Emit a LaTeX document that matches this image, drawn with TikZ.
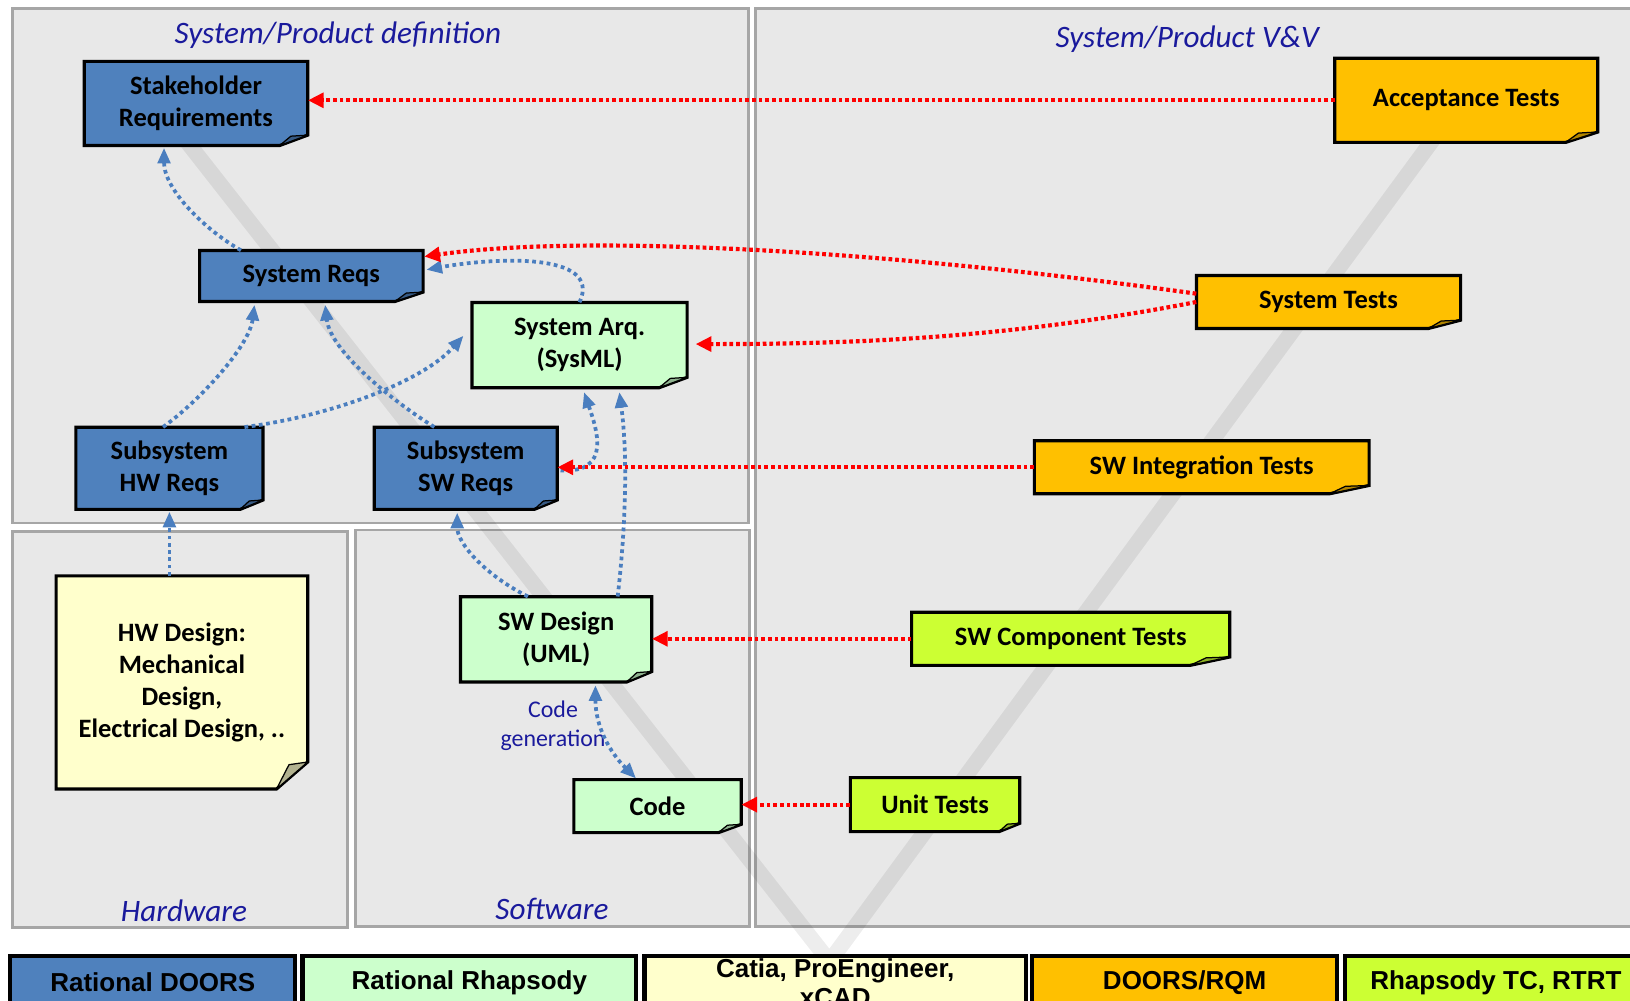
\documentclass[tikz,border=0pt]{standalone}
\usepackage{fontspec}
\setmainfont{Carlito}
\newfontfamily\legendfont{Liberation Sans}
\usetikzlibrary{arrows.meta,calc}

\definecolor{panelfill}{HTML}{E8E8E8}
\definecolor{panelline}{HTML}{A6A6A6}
\definecolor{doorsblue}{HTML}{4F81BD}
\definecolor{rhapgreen}{HTML}{CCFFCC}
\definecolor{cadyellow}{HTML}{FFFFCC}
\definecolor{testorange}{HTML}{FFC000}
\definecolor{testlime}{HTML}{CCFF33}
\definecolor{titleblue}{HTML}{1A1A9C}
\definecolor{linkblue}{HTML}{4A7EBF}

\tikzset{
  panel/.style={fill=panelfill, draw=panelline, line width=2.5pt},
  paneltitle/.style={font=\fontsize{30}{36}\selectfont\itshape, text=titleblue, inner sep=0pt},
  notetext/.style={font=\fontsize{25.5}{31}\selectfont\bfseries, align=center, inner sep=0pt},
  trace/.style={draw=linkblue, line width=3.6pt, dash pattern=on 3.6pt off 3.4pt,
    -{Triangle[length=15pt,width=12pt]}},
  verify/.style={draw=red, line width=4pt, dash pattern=on 3.6pt off 2.8pt,
    -{Triangle[length=15pt,width=14pt]}},
  legendbox/.style={draw=black, line width=4pt, anchor=north west, minimum height=50pt,
    inner sep=0pt, font=\legendfont\fontsize{25}{28}\selectfont\bfseries, align=center},
  vband/.style={draw=black, opacity=0.07, line width=15pt, line join=round}
}

% sticky note with a folded bottom-right corner
% #1 name, #2 centre x, #3 centre y, #4 width, #5 height, #6 fill,
% #7 fold width, #8 fold height, #9 text
\newcommand\stickynote[9]{%
  \begin{scope}[shift={(#2,#3)}]
    \filldraw[fill=#6, draw=black, line width=3pt, line join=miter]
      (-#4/2,-#5/2) -- (#4/2,-#5/2) -- (#4/2,#5/2-#8) -- (#4/2-#7,#5/2)
      -- (-#4/2,#5/2) -- cycle;
    \filldraw[fill=#6!70!black, draw=black, line width=1.2pt, line join=round]
      (#4/2,#5/2-#8) -- (#4/2-0.6*#7,#5/2-0.9*#8) -- (#4/2-#7,#5/2) -- cycle;
    \node[notetext, minimum width=#4pt, minimum height=#5pt] (#1) at (0,0) {#9};
  \end{scope}}

\begin{document}
\begin{tikzpicture}[x=1pt,y=-1pt]
  \clip (0,0) rectangle (1568,962);
  \fill[white] (0,0) rectangle (1568,962);

  % panels
  \draw[panel] (12,8) rectangle (720,503);
  \draw[panel] (12,511) rectangle (334,892);
  \draw[panel] (342,510) rectangle (721,891);
  \draw[panel] (727,8) rectangle (1600,891);

  % panel titles
  \node[paneltitle] (deftitle) at (325,34) {System/Product definition};
  \node[paneltitle] (vvtitle) at (1142,38) {System/Product V\&V};
  \node[paneltitle] (hwtitle) at (177,876) {Hardware};
  \node[paneltitle] (swtitle) at (531,874) {Software};

  % the V of the life cycle
  \draw[vband] (167,120) -- (798,925) -- (1389,120);

  % definition side
  \stickynote{stake}{188.5}{99.5}{215}{81}{doorsblue}{27}{10}{Stakeholder\\Requirements}
  \stickynote{sysreq}{299.5}{265.5}{215}{49}{doorsblue}{27}{9}{System Reqs}
  \stickynote{subhw}{163}{450.5}{180}{79}{doorsblue}{22}{9}{Subsystem\\HW Reqs}
  \stickynote{subsw}{448}{450.5}{176}{79}{doorsblue}{22}{9}{Subsystem\\SW Reqs}
  \stickynote{sysarq}{557.5}{332}{207}{82}{rhapgreen}{27}{10}{System Arq.\\(SysML)}
  \stickynote{swdes}{535}{615}{184}{82}{rhapgreen}{24}{10}{SW Design\\(UML)}
  \stickynote{code}{632.5}{775.5}{161}{51}{rhapgreen}{22}{8}{Code}
  \stickynote{hwdes}{175}{656.5}{242}{205}{cadyellow}{30}{26}{HW Design:\\Mechanical\\Design,\\Electrical Design, ..}

  % verification side
  \stickynote{acc}{1410.5}{96.5}{253}{81}{testorange}{31}{10}{Acceptance Tests}
  \stickynote{systest}{1278}{290.5}{254}{51}{testorange}{31}{8}{System Tests}
  \stickynote{swint}{1156}{449.5}{322}{51}{testorange}{38}{8}{SW Integration Tests}
  \stickynote{swcomp}{1030}{614.5}{306}{51}{testlime}{38}{8}{SW Component Tests}
  \stickynote{unit}{899.5}{774}{163}{52}{testlime}{20}{8}{Unit Tests}

  \node[font=\fontsize{23}{28}\selectfont, text=titleblue, align=center, inner sep=0pt]
    (codegen) at (532,698) {Code\\generation};

  % traceability links
  \draw[trace] ($(sysreq.north west)+(40,0)$) .. controls +(-35,-20) and +(0,40) .. ($(stake.south west)+(77,2)$);
  \draw[trace] ($(subhw.north west)+(84,0)$) .. controls +(35,-25) and +(-5,40) .. ($(sysreq.south west)+(53,3)$);
  \draw[trace] ($(subhw.north east)+(-18,0)$) .. controls +(80,-10) and +(-40,45) .. ($(sysarq.west)+(-8,-9)$);
  \draw[trace] ($(subsw.north west)+(58,0)$) .. controls +(-40,-25) and +(5,45) .. ($(sysreq.south west)+(121,3)$);
  \draw[trace] (sysarq.north) .. controls +(23,-50) and +(60,-11) .. ($(sysreq.east)+(3,-6)$);
  \draw[trace] ($(subsw.east)+(3,2)$) .. controls +(50,3) and +(12,35) .. ($(sysarq.south west)+(108,4)$);
  \draw[trace] ($(swdes.north east)+(-33,0)$) .. controls +(8,-70) and +(8,60) .. ($(sysarq.south west)+(142,4)$);
  \draw[trace] ($(swdes.north west)+(65,0)$) .. controls +(-40,-20) and +(0,30) .. ($(subsw.south west)+(80,3)$);
  \draw[trace] (subhw.south |- hwdes.north) -- ($(subhw.south)+(0,2)$);
  \draw[trace, {Triangle[length=15pt,width=12pt]}-{Triangle[length=15pt,width=12pt]}]
    ($(swdes.south west)+(130,3)$) .. controls +(0,40) and +(-25,-25) .. ($(code.north west)+(60,-1)$);

  % verification links
  \draw[verify] (acc.west) -- (stake.east |- acc.west);
  \draw[verify] ($(systest.west)+(0,-8)$) .. controls +(-300,-42) and +(153,-22) .. ($(sysreq.north east)+(1,6)$);
  \draw[verify] (systest.west) .. controls +(-180,35) and +(150,0) .. ($(sysarq.east)+(8,-1)$);
  \draw[verify] (swint.west) -- (subsw.east |- swint.west);
  \draw[verify] (swcomp.west) -- (swdes.east |- swcomp.west);
  \draw[verify] (unit.west) -- (code.east |- unit.west);

  % tool legend
  \node[legendbox, fill=doorsblue, minimum width=274pt] (lgdoors) at (8,918) {Rational DOORS};
  \node[legendbox, fill=rhapgreen, minimum width=321pt] (lgrhap) at (289,918) {Rational Rhapsody};
  \node[legendbox, fill=cadyellow, minimum width=367pt] (lgcad) at (618,918) {Catia, ProEngineer,\\xCAD};
  \node[legendbox, fill=testorange, minimum width=293pt] (lgrqm) at (991,918) {DOORS/RQM};
  \node[legendbox, fill=testlime, minimum width=290pt] (lgrtrt) at (1292,918) {Rhapsody TC, RTRT};
\end{tikzpicture}
\end{document}
